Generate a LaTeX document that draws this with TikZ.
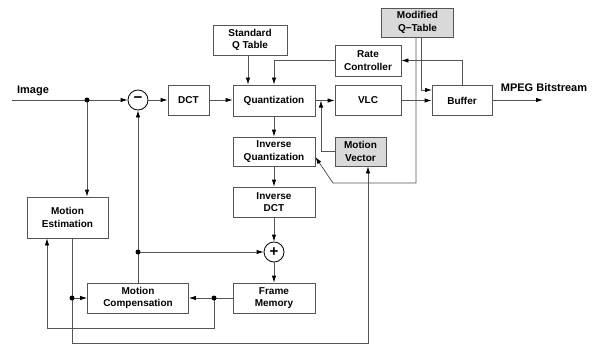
\documentclass[tikz,border=0pt]{standalone}
\usepackage{fontspec}
\setmainfont{Liberation Sans}
\usetikzlibrary{arrows.meta,calc}
\definecolor{lc}{RGB}{85,85,85}
\definecolor{gfill}{RGB}{217,217,217}
\begin{document}
\begin{tikzpicture}[x=1pt,y=-1pt,
  box/.style={draw=lc, line width=0.8pt, inner sep=0pt, align=center,
    font=\bfseries\fontsize{10}{12.5}\selectfont},
  gbox/.style={box, fill=gfill},
  ln/.style={draw=lc, line width=0.8pt},
  arr/.style={ln, -{Latex[length=7pt,width=4.5pt,color=black]}},
  jdot/.style={circle, fill=black, inner sep=0pt, minimum size=5pt},
  sumc/.style={circle, draw=black, line width=0.8pt, minimum size=20pt, inner sep=0pt,
    font=\bfseries\fontsize{15}{15}\selectfont},
  lbl/.style={font=\bfseries\fontsize{11}{13}\selectfont, inner sep=0pt}]
\useasboundingbox (0,0) rectangle (592,345);

% boxes
\node[box, minimum width=41pt, minimum height=30pt] (dct) at (188.5,100.5) {DCT};
\node[box, minimum width=74pt, minimum height=30pt] (sq) at (250,40) {Standard\\Q Table};
\node[box, minimum width=82pt, minimum height=31pt] (q) at (274,100.5) {Quantization};
\node[box, minimum width=66pt, minimum height=31pt] (rc) at (368,60.5) {Rate\\Controller};
\node[box, minimum width=66pt, minimum height=30pt] (vlc) at (368,100.5) {VLC};
\node[box, minimum width=60pt, minimum height=30pt] (buf) at (462,100.5) {Buffer};
\node[gbox, minimum width=72pt, minimum height=29pt] (mq) at (417.5,22.5) {Modified\\Q\char"2212 Table};
\node[box, minimum width=82pt, minimum height=29pt] (iq) at (274,151.5) {Inverse\\Quantization};
\node[gbox, minimum width=51pt, minimum height=29pt] (mv) at (360.5,151.5) {Motion\\Vector};
\node[box, minimum width=82pt, minimum height=30pt] (idct) at (274,202) {Inverse\\DCT};
\node[box, minimum width=82pt, minimum height=30pt] (fm) at (274,298) {Frame\\Memory};
\node[box, minimum width=101pt, minimum height=30pt] (mc) at (138,298) {Motion\\Compensation};
\node[box, minimum width=81pt, minimum height=41pt] (me) at (67.5,217.5) {Motion\\Estimation};

% summing junctions
\node[sumc] (sub) at (138,100) {\char"2212};
\node[sumc] (add) at (274,252) {+};

% labels
\node[lbl, anchor=base] (limg) at (33,94) {Image};
\node[lbl, anchor=base] (lout) at (544,92) {MPEG Bitstream};

% helper coordinates
\coordinate (in) at (12,100);
\coordinate (out) at (543,100);
\coordinate (c248) at (248,0);
\coordinate (c321) at (321,100.5);
\coordinate (mqa) at (421,37);
\coordinate (mqb) at (416,37);
\coordinate (b90) at (432,90);
\coordinate (k1) at (416,183);
\coordinate (k2) at (333,183);
\coordinate (c47) at (47,328);
\coordinate (e72) at (72,343);
\coordinate (e368) at (368,343);
\coordinate (d1) at (87,100);
\coordinate (d2) at (138,252);
\coordinate (d3) at (214,298);
\coordinate (d4) at (72,298);

% connectors
\draw[arr] (in) -- (sub.west);
\draw[arr] (sub.east) -- (sub.east -| dct.west);
\draw[arr] (sub.east -| dct.east) -- (sub.east -| q.west);
\draw[arr] (sq.south -| c248) -- (q.north -| c248);
\draw[arr] (rc.west) -- (rc.west -| q.north) -- (q.north);
\draw[arr] (q.east |- c321) -- (vlc.west |- c321);
\draw[arr] (vlc.east |- c321) -- (buf.west |- c321);
\draw[arr] (buf.east |- out) -- (out);
\draw[arr] (buf.north) -- (buf.north |- rc.east) -- (rc.east);
\draw[arr] (mqa) -- (mqa |- b90) -- (b90);
\draw[arr] (mqb) -- (k1) -- (k2) -- ($(iq.east)+(0,5.5)$);
\draw[arr] (mv.west) -- (mv.west -| c321) -- (c321);
\draw[arr] (q.south) -- (iq.north);
\draw[arr] (iq.south) -- (idct.north);
\draw[arr] (idct.south) -- (add.north);
\draw[arr] (add.south) -- (fm.north);
\draw[arr] (fm.west) -- (mc.east);
\draw[arr] (d3) -- (d3 |- c47) -- (c47) -- (c47 |- me.south);
\draw[arr] (mc.north) -- (sub.south);
\draw[arr] (d2) -- (add.west);
\draw[arr] (d1) -- (d1 |- me.north);
\draw[arr] (me.south -| e72) -- (e72) -- (e368) -- (e368 |- mv.south);
\draw[arr] (d4) -- (mc.west);

% junction dots
\node[jdot] (jd1) at (d1) {};
\node[jdot] (jd2) at (d2) {};
\node[jdot] (jd3) at (d3) {};
\node[jdot] (jd4) at (d4) {};
\end{tikzpicture}
\end{document}
